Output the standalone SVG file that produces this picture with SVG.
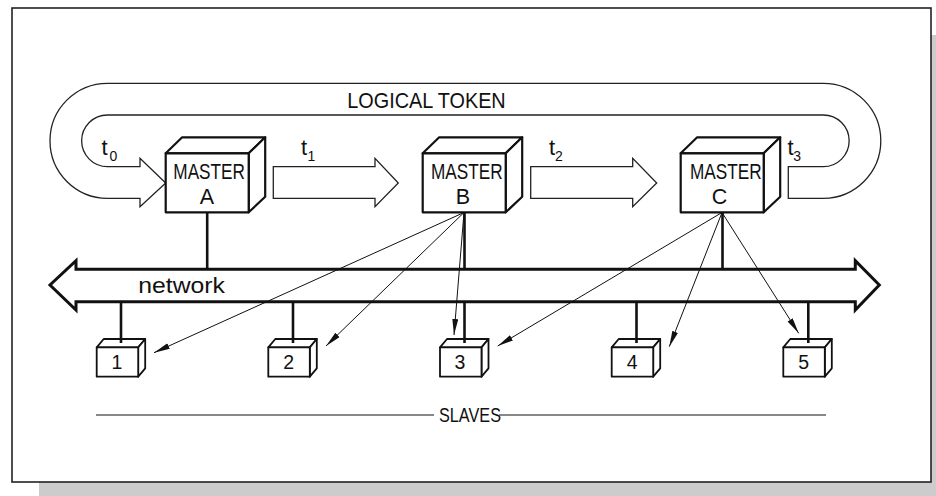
<svg xmlns="http://www.w3.org/2000/svg" width="936" height="496" viewBox="0 0 936 496">
<defs>
<style>
.txt{font-family:"Liberation Sans",Arial,sans-serif;fill:#111}
.tk{font-size:22px}
.sub{font-size:14px}
.box{fill:#fff;stroke:#111;stroke-width:2.2;stroke-linejoin:round}
.sbox{fill:#fff;stroke:#111;stroke-width:1.8;stroke-linejoin:round}
.band{fill:#fff;stroke:#222;stroke-width:1.3;stroke-linejoin:miter}
.stem{stroke:#111;stroke-width:2.6;fill:none}
.thin{stroke:#111;stroke-width:1;fill:none}
.arr{stroke:#111;stroke-width:1;fill:none;marker-end:url(#ah)}
</style>
<marker id="ah" markerUnits="userSpaceOnUse" markerWidth="17" markerHeight="7" refX="16" refY="3" orient="auto">
<path d="M0,0 L16,3 L0,6 Z" fill="#111"/>
</marker>
</defs>

<g id="frame">
<rect x="39" y="35" width="897" height="461" fill="#cccccc"/>
<rect x="12" y="8" width="919" height="474" fill="#fff" stroke="#222" stroke-width="1.6"/>
</g>

<g id="logical-token">
<path class="band" d="M788.3,198.3 H823.3 A57.5,57.5 0 0 0 823.3,83.3 H107.5 A57.5,57.5 0 0 0 107.5,198.3 H140 V206.7 L165.7,183 L140,158.3 V166.7 H107.5 A25.8,25.8 0 0 1 107.5,115 H823.3 A25.8,25.8 0 0 1 823.3,166.7 H788.3 Z"/>
<text class="txt" x="347.3" y="107.7" font-size="21.5" textLength="158.4" lengthAdjust="spacingAndGlyphs">LOGICAL TOKEN</text>
<text class="txt tk" x="101.5" y="155">t</text>
<text class="txt sub" x="109.5" y="161">0</text>
</g>

<g id="token-a-b">
<path class="band" d="M273.3,166.7 H375 V158.3 L398.3,183 L375,206.7 V198.3 H273.3 Z"/>
<text class="txt tk" x="301" y="155">t</text>
<text class="txt sub" x="307.5" y="160.5">1</text>
</g>

<g id="token-b-c">
<path class="band" d="M530.7,166.7 H632.7 V158.3 L656.7,183 L632.7,206.7 V198.3 H530.7 Z"/>
<text class="txt tk" x="549" y="155">t</text>
<text class="txt sub" x="555" y="161">2</text>
</g>

<g id="token-c">
<text class="txt tk" x="787.5" y="154.5">t</text>
<text class="txt sub" x="793.3" y="160.7">3</text>
</g>

<g id="bus">
<path d="M76,269.3 H855.3 V260.7 L879.3,285 L855.3,310 V301.7 H76 V310 L50,285 L76,260.7 Z" fill="#fff" stroke="#111" stroke-width="3" stroke-linejoin="miter"/>
<text class="txt" x="138.3" y="293.3" font-size="22" textLength="86.7" lengthAdjust="spacingAndGlyphs">network</text>
</g>

<g id="master-a">
<path class="box" d="M165.7,153.3 L182.2,137.3 H265.2 L248.7,153.3 Z"/>
<path class="box" d="M248.7,153.3 L265.2,137.3 V196.7 L248.7,212.3 Z"/>
<rect class="box" x="165.7" y="153.3" width="83" height="59"/>
<text class="txt" x="173.3" y="179" font-size="21.5" textLength="71.7" lengthAdjust="spacingAndGlyphs">MASTER</text>
<text class="txt" x="207" y="204" font-size="21.5" text-anchor="middle">A</text>
</g>

<g id="master-b">
<path class="box" d="M422.7,153.3 L439.2,137.3 H522.2 L505.7,153.3 Z"/>
<path class="box" d="M505.7,153.3 L522.2,137.3 V196.7 L505.7,212.3 Z"/>
<rect class="box" x="422.7" y="153.3" width="83" height="59"/>
<text class="txt" x="431" y="179" font-size="21.5" textLength="71.7" lengthAdjust="spacingAndGlyphs">MASTER</text>
<text class="txt" x="463" y="204" font-size="21.5" text-anchor="middle">B</text>
</g>

<g id="master-c">
<path class="box" d="M680.7,153.3 L697.2,137.3 H780.2 L763.7,153.3 Z"/>
<path class="box" d="M763.7,153.3 L780.2,137.3 V196.7 L763.7,212.3 Z"/>
<rect class="box" x="680.7" y="153.3" width="83" height="59"/>
<text class="txt" x="690" y="179" font-size="21.5" textLength="71.7" lengthAdjust="spacingAndGlyphs">MASTER</text>
<text class="txt" x="719.5" y="204" font-size="21.5" text-anchor="middle">C</text>
</g>

<g id="slave-1">
<path class="sbox" d="M96.7,347.3 L103.7,339 H145.2 L138.2,347.3 Z"/>
<path class="sbox" d="M138.2,347.3 L145.2,339 V368.3 L138.2,376.7 Z"/>
<rect class="sbox" x="96.7" y="347.3" width="41.5" height="29.4"/>
<text class="txt" x="117" y="368.5" font-size="19.5" text-anchor="middle">1</text>
</g>
<g id="slave-2">
<path class="sbox" d="M268.3,347.3 L275.3,339 H316.8 L309.8,347.3 Z"/>
<path class="sbox" d="M309.8,347.3 L316.8,339 V368.3 L309.8,376.7 Z"/>
<rect class="sbox" x="268.3" y="347.3" width="41.5" height="29.4"/>
<text class="txt" x="288.8" y="368.5" font-size="19.5" text-anchor="middle">2</text>
</g>
<g id="slave-3">
<path class="sbox" d="M440,347.3 L447,339 H488.5 L481.5,347.3 Z"/>
<path class="sbox" d="M481.5,347.3 L488.5,339 V368.3 L481.5,376.7 Z"/>
<rect class="sbox" x="440" y="347.3" width="41.5" height="29.4"/>
<text class="txt" x="460" y="368.5" font-size="19.5" text-anchor="middle">3</text>
</g>
<g id="slave-4">
<path class="sbox" d="M611.7,347.3 L618.7,339 H660.2 L653.2,347.3 Z"/>
<path class="sbox" d="M653.2,347.3 L660.2,339 V368.3 L653.2,376.7 Z"/>
<rect class="sbox" x="611.7" y="347.3" width="41.5" height="29.4"/>
<text class="txt" x="632.2" y="368.5" font-size="19.5" text-anchor="middle">4</text>
</g>
<g id="slave-5">
<path class="sbox" d="M783.3,347.3 L790.3,339 H831.8 L824.8,347.3 Z"/>
<path class="sbox" d="M824.8,347.3 L831.8,339 V368.3 L824.8,376.7 Z"/>
<rect class="sbox" x="783.3" y="347.3" width="41.5" height="29.4"/>
<text class="txt" x="803.8" y="368.5" font-size="19.5" text-anchor="middle">5</text>
</g>

<g id="connectors">
<line class="stem" x1="207.2" y1="212.3" x2="207.2" y2="269.3"/>
<line class="stem" x1="464.5" y1="212.3" x2="464.5" y2="269.3"/>
<line class="stem" x1="722.5" y1="212.3" x2="722.5" y2="269.3"/>
<line class="stem" x1="121" y1="301.7" x2="121" y2="343"/>
<line class="stem" x1="293" y1="301.7" x2="293" y2="343"/>
<line class="stem" x1="464.5" y1="301.7" x2="464.5" y2="343"/>
<line class="stem" x1="636.5" y1="301.7" x2="636.5" y2="343"/>
<line class="stem" x1="808.3" y1="301.7" x2="808.3" y2="343"/>
<line class="arr" x1="464" y1="212.5" x2="154" y2="352.7"/>
<line class="arr" x1="464" y1="212.5" x2="326" y2="346"/>
<line class="arr" x1="464" y1="212.5" x2="454" y2="335"/>
<line class="arr" x1="722" y1="212.5" x2="497.7" y2="346"/>
<line class="arr" x1="722" y1="212.5" x2="669.3" y2="346.7"/>
<line class="arr" x1="722" y1="212.5" x2="798.7" y2="333.3"/>
</g>

<g id="slaves-label">
<line class="thin" x1="96" y1="415" x2="434" y2="415"/>
<line class="thin" x1="499" y1="415" x2="826" y2="415"/>
<text class="txt" x="439" y="422.3" font-size="20.5" textLength="62" lengthAdjust="spacingAndGlyphs">SLAVES</text>
</g>
</svg>
